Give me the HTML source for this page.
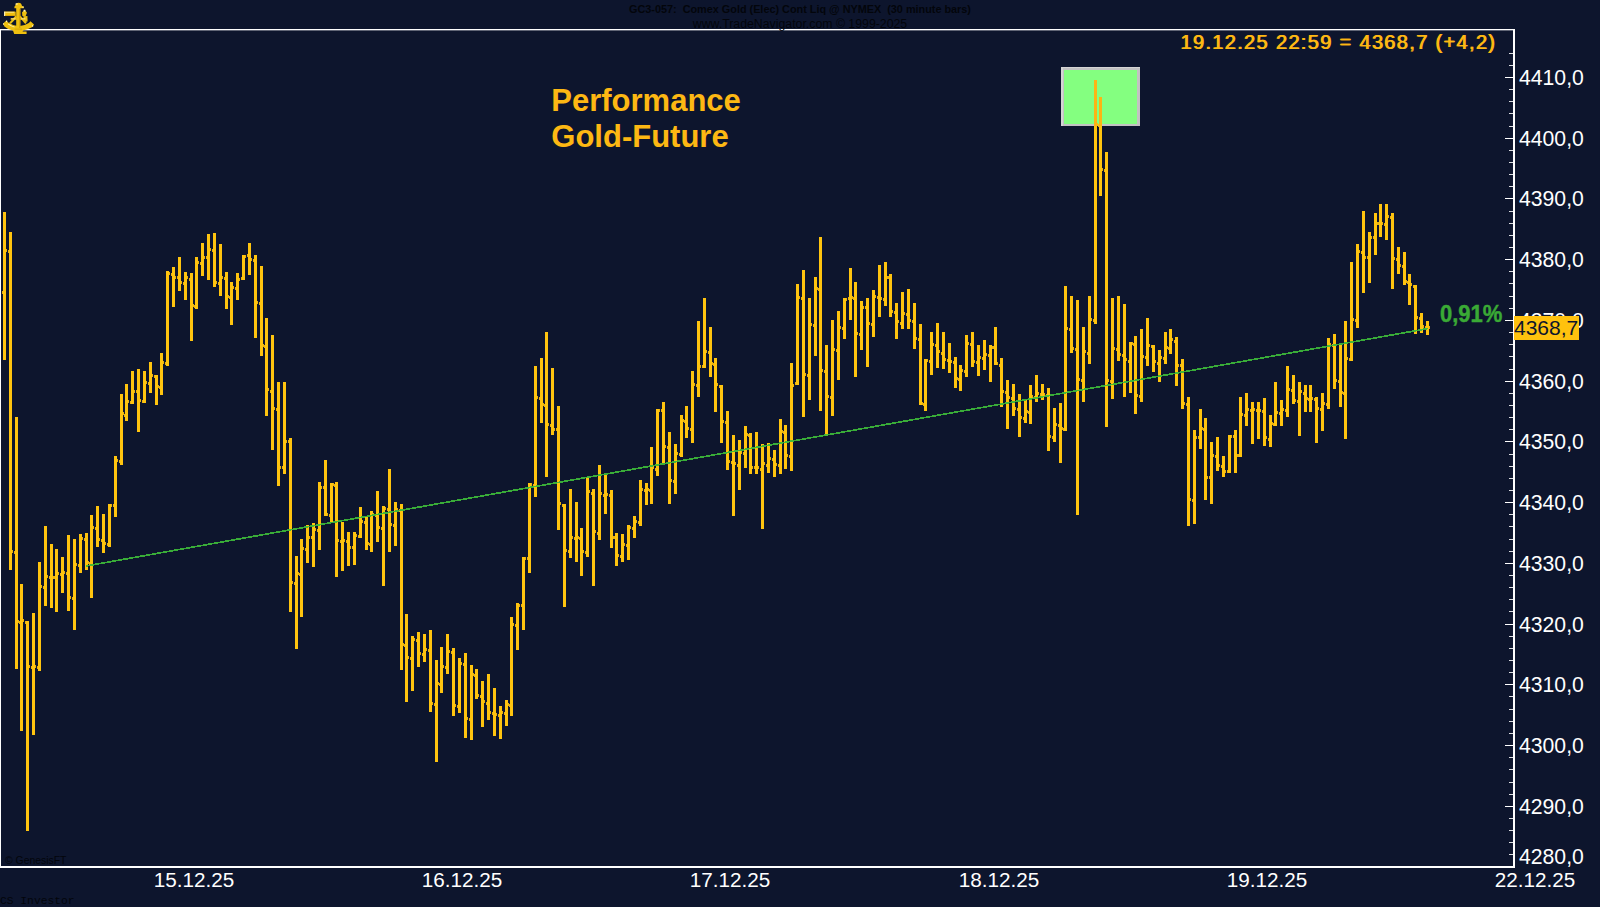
<!DOCTYPE html>
<html lang="de"><head><meta charset="utf-8"><title>Performance Gold-Future</title>
<style>
html,body{margin:0;padding:0;background:#0d152d;}
body{width:1600px;height:907px;position:relative;overflow:hidden;font-family:"Liberation Sans",Arial,sans-serif;}
#chart{position:absolute;left:0;top:0;width:1600px;height:907px;}
.t{position:absolute;white-space:nowrap;}
.yl{position:absolute;left:1519px;width:70px;height:24px;line-height:24px;font-size:21.2px;color:#fff;white-space:nowrap;}
.dl{position:absolute;top:868.3px;width:100px;height:24px;line-height:24px;font-size:20.7px;color:#fff;text-align:center;white-space:nowrap;}
#title{left:551.3px;top:82.8px;font-size:31px;line-height:35.7px;font-weight:bold;color:#fdb813;white-space:pre;}
#status{left:1180px;top:30px;font-size:20px;line-height:24px;font-weight:normal;color:#fdb813;text-shadow:1px 0 0 #fdb813;letter-spacing:1.335px;}
#pct{left:1440.2px;top:301px;font-size:23.4px;line-height:27px;transform:scaleX(0.94);transform-origin:0 0;-webkit-text-stroke:0.45px #3aaa35;font-weight:bold;color:#3aaa35;}
#price{left:1514px;top:316px;width:65px;height:24px;background:#ffc20e;color:#0d152d;font-size:21px;line-height:24px;}
#hdr1{left:0;width:1600px;text-align:center;top:2.7px;font-size:10.85px;line-height:13px;font-weight:bold;color:#03050b;white-space:pre;}
#hdr2{left:0;width:1600px;text-align:center;top:17px;font-size:12.3px;line-height:14px;color:#03050b;}
#gen{left:5px;top:855px;font-size:10.4px;line-height:12px;color:#03050b;}
#cs{left:0px;top:895px;font-size:11.3px;line-height:12px;color:#03050b;font-family:"Liberation Mono",monospace;}
</style></head><body>
<svg id="chart" width="1600" height="907" viewBox="0 0 1600 907" shape-rendering="crispEdges">
<g fill="#fff">
<rect x="0" y="29" width="1515" height="1"/><rect x="0" y="30" width="1515" height="1" fill-opacity="0.35"/>
<rect x="0" y="866" width="1515" height="2"/>
<rect x="1513" y="29" width="2" height="839"/>
<rect x="0" y="29" width="1" height="839"/>
<rect x="1509" y="53" width="4" height="1" fill-opacity="0.85"/><rect x="1509" y="65" width="4" height="1" fill-opacity="0.85"/><rect x="1505" y="77" width="8" height="1"/><rect x="1509" y="89" width="4" height="1" fill-opacity="0.85"/><rect x="1509" y="101" width="4" height="1" fill-opacity="0.85"/><rect x="1509" y="113" width="4" height="1" fill-opacity="0.85"/><rect x="1509" y="126" width="4" height="1" fill-opacity="0.85"/><rect x="1505" y="138" width="8" height="1"/><rect x="1509" y="150" width="4" height="1" fill-opacity="0.85"/><rect x="1509" y="162" width="4" height="1" fill-opacity="0.85"/><rect x="1509" y="174" width="4" height="1" fill-opacity="0.85"/><rect x="1509" y="186" width="4" height="1" fill-opacity="0.85"/><rect x="1505" y="198" width="8" height="1"/><rect x="1509" y="211" width="4" height="1" fill-opacity="0.85"/><rect x="1509" y="223" width="4" height="1" fill-opacity="0.85"/><rect x="1509" y="235" width="4" height="1" fill-opacity="0.85"/><rect x="1509" y="247" width="4" height="1" fill-opacity="0.85"/><rect x="1505" y="259" width="8" height="1"/><rect x="1509" y="271" width="4" height="1" fill-opacity="0.85"/><rect x="1509" y="283" width="4" height="1" fill-opacity="0.85"/><rect x="1509" y="296" width="4" height="1" fill-opacity="0.85"/><rect x="1509" y="308" width="4" height="1" fill-opacity="0.85"/><rect x="1505" y="320" width="8" height="1"/><rect x="1509" y="332" width="4" height="1" fill-opacity="0.85"/><rect x="1509" y="344" width="4" height="1" fill-opacity="0.85"/><rect x="1509" y="356" width="4" height="1" fill-opacity="0.85"/><rect x="1509" y="369" width="4" height="1" fill-opacity="0.85"/><rect x="1505" y="381" width="8" height="1"/><rect x="1509" y="393" width="4" height="1" fill-opacity="0.85"/><rect x="1509" y="405" width="4" height="1" fill-opacity="0.85"/><rect x="1509" y="417" width="4" height="1" fill-opacity="0.85"/><rect x="1509" y="429" width="4" height="1" fill-opacity="0.85"/><rect x="1505" y="441" width="8" height="1"/><rect x="1509" y="454" width="4" height="1" fill-opacity="0.85"/><rect x="1509" y="466" width="4" height="1" fill-opacity="0.85"/><rect x="1509" y="478" width="4" height="1" fill-opacity="0.85"/><rect x="1509" y="490" width="4" height="1" fill-opacity="0.85"/><rect x="1505" y="502" width="8" height="1"/><rect x="1509" y="514" width="4" height="1" fill-opacity="0.85"/><rect x="1509" y="526" width="4" height="1" fill-opacity="0.85"/><rect x="1509" y="539" width="4" height="1" fill-opacity="0.85"/><rect x="1509" y="551" width="4" height="1" fill-opacity="0.85"/><rect x="1505" y="563" width="8" height="1"/><rect x="1509" y="575" width="4" height="1" fill-opacity="0.85"/><rect x="1509" y="587" width="4" height="1" fill-opacity="0.85"/><rect x="1509" y="599" width="4" height="1" fill-opacity="0.85"/><rect x="1509" y="611" width="4" height="1" fill-opacity="0.85"/><rect x="1505" y="624" width="8" height="1"/><rect x="1509" y="636" width="4" height="1" fill-opacity="0.85"/><rect x="1509" y="648" width="4" height="1" fill-opacity="0.85"/><rect x="1509" y="660" width="4" height="1" fill-opacity="0.85"/><rect x="1509" y="672" width="4" height="1" fill-opacity="0.85"/><rect x="1505" y="684" width="8" height="1"/><rect x="1509" y="696" width="4" height="1" fill-opacity="0.85"/><rect x="1509" y="709" width="4" height="1" fill-opacity="0.85"/><rect x="1509" y="721" width="4" height="1" fill-opacity="0.85"/><rect x="1509" y="733" width="4" height="1" fill-opacity="0.85"/><rect x="1505" y="745" width="8" height="1"/><rect x="1509" y="757" width="4" height="1" fill-opacity="0.85"/><rect x="1509" y="769" width="4" height="1" fill-opacity="0.85"/><rect x="1509" y="782" width="4" height="1" fill-opacity="0.85"/><rect x="1509" y="794" width="4" height="1" fill-opacity="0.85"/><rect x="1505" y="806" width="8" height="1"/><rect x="1509" y="818" width="4" height="1" fill-opacity="0.85"/><rect x="1509" y="830" width="4" height="1" fill-opacity="0.85"/><rect x="1509" y="842" width="4" height="1" fill-opacity="0.85"/><rect x="1509" y="854" width="4" height="1" fill-opacity="0.85"/>
</g>
<rect x="1061" y="67" width="79" height="59" fill="#d4d4d4"/><rect x="1063" y="68" width="77" height="58" fill="#c2c2c2"/><rect x="1064" y="70" width="73" height="54" fill="#84ff80"/>
<g fill="#ffc40f"><rect x="3" y="212" width="3" height="148"/><rect x="9" y="232" width="3" height="338"/><rect x="15" y="417" width="3" height="252"/><rect x="20" y="584" width="3" height="147"/><rect x="26" y="621" width="3" height="210"/><rect x="32" y="613" width="3" height="122"/><rect x="38" y="562" width="3" height="109"/><rect x="44" y="526" width="3" height="80"/><rect x="50" y="544" width="3" height="64"/><rect x="55" y="549" width="3" height="63"/><rect x="61" y="557" width="3" height="36"/><rect x="67" y="535" width="3" height="76"/><rect x="73" y="539" width="3" height="91"/><rect x="79" y="534" width="3" height="39"/><rect x="85" y="533" width="3" height="37"/><rect x="90" y="515" width="3" height="83"/><rect x="96" y="506" width="3" height="41"/><rect x="102" y="514" width="3" height="39"/><rect x="108" y="504" width="3" height="43"/><rect x="114" y="456" width="3" height="61"/><rect x="120" y="394" width="3" height="71"/><rect x="125" y="384" width="3" height="37"/><rect x="131" y="371" width="3" height="33"/><rect x="137" y="369" width="3" height="63"/><rect x="143" y="371" width="3" height="32"/><rect x="149" y="362" width="3" height="31"/><rect x="155" y="375" width="3" height="30"/><rect x="160" y="353" width="3" height="42"/><rect x="166" y="271" width="3" height="95"/><rect x="172" y="267" width="3" height="40"/><rect x="178" y="257" width="3" height="34"/><rect x="184" y="272" width="3" height="28"/><rect x="190" y="273" width="3" height="68"/><rect x="195" y="257" width="3" height="52"/><rect x="201" y="243" width="3" height="33"/><rect x="207" y="234" width="3" height="46"/><rect x="213" y="233" width="3" height="54"/><rect x="219" y="244" width="3" height="52"/><rect x="225" y="272" width="3" height="37"/><rect x="230" y="282" width="3" height="43"/><rect x="236" y="273" width="3" height="27"/><rect x="242" y="255" width="3" height="25"/><rect x="248" y="243" width="3" height="32"/><rect x="254" y="255" width="3" height="83"/><rect x="260" y="266" width="3" height="90"/><rect x="265" y="318" width="3" height="98"/><rect x="271" y="335" width="3" height="115"/><rect x="277" y="382" width="3" height="104"/><rect x="283" y="382" width="3" height="92"/><rect x="289" y="438" width="3" height="174"/><rect x="295" y="556" width="3" height="93"/><rect x="300" y="539" width="3" height="78"/><rect x="306" y="525" width="3" height="38"/><rect x="312" y="523" width="3" height="44"/><rect x="318" y="482" width="3" height="68"/><rect x="324" y="460" width="3" height="56"/><rect x="330" y="483" width="3" height="39"/><rect x="335" y="482" width="3" height="95"/><rect x="341" y="522" width="3" height="49"/><rect x="347" y="532" width="3" height="34"/><rect x="353" y="532" width="3" height="33"/><rect x="359" y="507" width="3" height="31"/><rect x="365" y="517" width="3" height="33"/><rect x="370" y="511" width="3" height="41"/><rect x="376" y="491" width="3" height="51"/><rect x="382" y="506" width="3" height="80"/><rect x="388" y="469" width="3" height="83"/><rect x="394" y="502" width="3" height="44"/><rect x="400" y="504" width="3" height="166"/><rect x="405" y="614" width="3" height="88"/><rect x="411" y="636" width="3" height="55"/><rect x="417" y="632" width="3" height="35"/><rect x="423" y="634" width="3" height="28"/><rect x="429" y="630" width="3" height="82"/><rect x="435" y="660" width="3" height="102"/><rect x="440" y="647" width="3" height="46"/><rect x="446" y="634" width="3" height="40"/><rect x="452" y="648" width="3" height="68"/><rect x="458" y="658" width="3" height="55"/><rect x="464" y="653" width="3" height="85"/><rect x="470" y="665" width="3" height="75"/><rect x="475" y="669" width="3" height="30"/><rect x="481" y="681" width="3" height="46"/><rect x="487" y="674" width="3" height="46"/><rect x="493" y="688" width="3" height="48"/><rect x="499" y="706" width="3" height="33"/><rect x="505" y="700" width="3" height="26"/><rect x="510" y="617" width="3" height="99"/><rect x="516" y="603" width="3" height="47"/><rect x="522" y="557" width="3" height="73"/><rect x="528" y="483" width="3" height="90"/><rect x="534" y="366" width="3" height="131"/><rect x="540" y="358" width="3" height="65"/><rect x="545" y="332" width="3" height="145"/><rect x="551" y="368" width="3" height="67"/><rect x="557" y="406" width="3" height="124"/><rect x="563" y="504" width="3" height="103"/><rect x="569" y="489" width="3" height="69"/><rect x="575" y="502" width="3" height="60"/><rect x="580" y="528" width="3" height="48"/><rect x="586" y="477" width="3" height="80"/><rect x="592" y="489" width="3" height="97"/><rect x="598" y="465" width="3" height="75"/><rect x="604" y="475" width="3" height="39"/><rect x="610" y="490" width="3" height="58"/><rect x="615" y="533" width="3" height="33"/><rect x="621" y="534" width="3" height="28"/><rect x="627" y="525" width="3" height="35"/><rect x="633" y="516" width="3" height="22"/><rect x="639" y="480" width="3" height="46"/><rect x="645" y="483" width="3" height="22"/><rect x="650" y="447" width="3" height="57"/><rect x="656" y="409" width="3" height="67"/><rect x="662" y="402" width="3" height="61"/><rect x="668" y="432" width="3" height="72"/><rect x="674" y="444" width="3" height="50"/><rect x="680" y="415" width="3" height="42"/><rect x="685" y="406" width="3" height="32"/><rect x="691" y="371" width="3" height="72"/><rect x="697" y="321" width="3" height="76"/><rect x="703" y="298" width="3" height="70"/><rect x="709" y="327" width="3" height="50"/><rect x="714" y="358" width="3" height="54"/><rect x="720" y="385" width="3" height="58"/><rect x="726" y="411" width="3" height="59"/><rect x="732" y="435" width="3" height="81"/><rect x="738" y="440" width="3" height="50"/><rect x="744" y="426" width="3" height="42"/><rect x="749" y="433" width="3" height="41"/><rect x="755" y="432" width="3" height="42"/><rect x="761" y="444" width="3" height="85"/><rect x="767" y="443" width="3" height="30"/><rect x="773" y="450" width="3" height="27"/><rect x="779" y="419" width="3" height="55"/><rect x="784" y="425" width="3" height="44"/><rect x="790" y="363" width="3" height="108"/><rect x="796" y="284" width="3" height="101"/><rect x="802" y="270" width="3" height="147"/><rect x="808" y="298" width="3" height="102"/><rect x="814" y="277" width="3" height="79"/><rect x="819" y="237" width="3" height="174"/><rect x="825" y="345" width="3" height="91"/><rect x="831" y="320" width="3" height="96"/><rect x="837" y="311" width="3" height="69"/><rect x="843" y="298" width="3" height="41"/><rect x="849" y="268" width="3" height="52"/><rect x="854" y="282" width="3" height="95"/><rect x="860" y="301" width="3" height="49"/><rect x="866" y="298" width="3" height="69"/><rect x="872" y="290" width="3" height="47"/><rect x="878" y="265" width="3" height="52"/><rect x="884" y="262" width="3" height="44"/><rect x="889" y="274" width="3" height="43"/><rect x="895" y="303" width="3" height="36"/><rect x="901" y="292" width="3" height="37"/><rect x="907" y="289" width="3" height="40"/><rect x="913" y="303" width="3" height="46"/><rect x="919" y="324" width="3" height="81"/><rect x="924" y="359" width="3" height="52"/><rect x="930" y="332" width="3" height="43"/><rect x="936" y="323" width="3" height="45"/><rect x="942" y="332" width="3" height="37"/><rect x="948" y="343" width="3" height="30"/><rect x="954" y="357" width="3" height="31"/><rect x="959" y="365" width="3" height="26"/><rect x="965" y="335" width="3" height="42"/><rect x="971" y="332" width="3" height="35"/><rect x="977" y="345" width="3" height="31"/><rect x="983" y="340" width="3" height="30"/><rect x="989" y="345" width="3" height="37"/><rect x="994" y="327" width="3" height="38"/><rect x="1000" y="358" width="3" height="49"/><rect x="1006" y="380" width="3" height="49"/><rect x="1012" y="384" width="3" height="32"/><rect x="1018" y="394" width="3" height="43"/><rect x="1024" y="400" width="3" height="23"/><rect x="1029" y="385" width="3" height="39"/><rect x="1035" y="375" width="3" height="27"/><rect x="1041" y="384" width="3" height="16"/><rect x="1047" y="388" width="3" height="63"/><rect x="1053" y="408" width="3" height="34"/><rect x="1059" y="403" width="3" height="60"/><rect x="1064" y="286" width="3" height="145"/><rect x="1070" y="296" width="3" height="57"/><rect x="1076" y="300" width="3" height="215"/><rect x="1082" y="327" width="3" height="75"/><rect x="1088" y="296" width="3" height="68"/><rect x="1094" y="80" width="3" height="244"/><rect x="1099" y="97" width="3" height="99"/><rect x="1105" y="152" width="3" height="275"/><rect x="1111" y="298" width="3" height="101"/><rect x="1117" y="296" width="3" height="65"/><rect x="1123" y="304" width="3" height="93"/><rect x="1129" y="342" width="3" height="51"/><rect x="1134" y="336" width="3" height="78"/><rect x="1140" y="329" width="3" height="73"/><rect x="1146" y="318" width="3" height="48"/><rect x="1152" y="345" width="3" height="27"/><rect x="1158" y="350" width="3" height="32"/><rect x="1164" y="332" width="3" height="32"/><rect x="1169" y="329" width="3" height="25"/><rect x="1175" y="337" width="3" height="49"/><rect x="1181" y="359" width="3" height="50"/><rect x="1187" y="397" width="3" height="129"/><rect x="1193" y="430" width="3" height="94"/><rect x="1199" y="409" width="3" height="40"/><rect x="1204" y="418" width="3" height="82"/><rect x="1210" y="442" width="3" height="62"/><rect x="1216" y="437" width="3" height="34"/><rect x="1222" y="456" width="3" height="21"/><rect x="1228" y="435" width="3" height="38"/><rect x="1234" y="430" width="3" height="43"/><rect x="1239" y="397" width="3" height="60"/><rect x="1245" y="393" width="3" height="33"/><rect x="1251" y="402" width="3" height="42"/><rect x="1257" y="402" width="3" height="37"/><rect x="1263" y="398" width="3" height="48"/><rect x="1269" y="415" width="3" height="32"/><rect x="1274" y="382" width="3" height="44"/><rect x="1280" y="400" width="3" height="26"/><rect x="1286" y="366" width="3" height="51"/><rect x="1292" y="375" width="3" height="29"/><rect x="1298" y="382" width="3" height="54"/><rect x="1304" y="385" width="3" height="27"/><rect x="1309" y="385" width="3" height="27"/><rect x="1315" y="397" width="3" height="46"/><rect x="1321" y="393" width="3" height="38"/><rect x="1327" y="338" width="3" height="71"/><rect x="1333" y="334" width="3" height="55"/><rect x="1339" y="345" width="3" height="62"/><rect x="1344" y="321" width="3" height="118"/><rect x="1350" y="262" width="3" height="99"/><rect x="1356" y="244" width="3" height="84"/><rect x="1362" y="211" width="3" height="82"/><rect x="1368" y="232" width="3" height="51"/><rect x="1374" y="213" width="3" height="42"/><rect x="1379" y="204" width="3" height="33"/><rect x="1385" y="204" width="3" height="36"/><rect x="1391" y="213" width="3" height="76"/><rect x="1397" y="247" width="3" height="27"/><rect x="1403" y="252" width="3" height="33"/><rect x="1408" y="274" width="3" height="31"/><rect x="1414" y="285" width="3" height="49"/><rect x="1420" y="313" width="3" height="20"/><rect x="1426" y="321" width="3" height="14"/></g><g fill="#fbc010" fill-opacity="0.92"><rect x="6" y="249" width="1" height="3"/><rect x="2" y="291" width="1" height="3"/><rect x="12" y="550" width="1" height="3"/><rect x="8" y="250" width="1" height="3"/><rect x="18" y="620" width="1" height="3"/><rect x="14" y="551" width="1" height="3"/><rect x="23" y="619" width="1" height="3"/><rect x="19" y="621" width="1" height="3"/><rect x="29" y="665" width="1" height="3"/><rect x="25" y="621" width="1" height="3"/><rect x="35" y="665" width="1" height="3"/><rect x="31" y="666" width="1" height="3"/><rect x="41" y="585" width="1" height="3"/><rect x="37" y="666" width="1" height="3"/><rect x="47" y="575" width="1" height="3"/><rect x="43" y="586" width="1" height="3"/><rect x="53" y="576" width="1" height="3"/><rect x="49" y="576" width="1" height="3"/><rect x="58" y="572" width="1" height="3"/><rect x="54" y="576" width="1" height="3"/><rect x="64" y="571" width="1" height="3"/><rect x="60" y="573" width="1" height="3"/><rect x="70" y="596" width="1" height="3"/><rect x="66" y="572" width="1" height="3"/><rect x="76" y="563" width="1" height="3"/><rect x="72" y="597" width="1" height="3"/><rect x="82" y="537" width="1" height="3"/><rect x="78" y="564" width="1" height="3"/><rect x="88" y="561" width="1" height="3"/><rect x="84" y="538" width="1" height="3"/><rect x="93" y="526" width="1" height="3"/><rect x="89" y="562" width="1" height="3"/><rect x="99" y="538" width="1" height="3"/><rect x="95" y="527" width="1" height="3"/><rect x="105" y="542" width="1" height="3"/><rect x="101" y="539" width="1" height="3"/><rect x="111" y="504" width="1" height="3"/><rect x="107" y="543" width="1" height="3"/><rect x="117" y="459" width="1" height="3"/><rect x="113" y="504" width="1" height="3"/><rect x="123" y="412" width="1" height="3"/><rect x="119" y="460" width="1" height="3"/><rect x="128" y="400" width="1" height="3"/><rect x="124" y="414" width="1" height="3"/><rect x="134" y="390" width="1" height="3"/><rect x="130" y="401" width="1" height="3"/><rect x="140" y="399" width="1" height="3"/><rect x="136" y="390" width="1" height="3"/><rect x="146" y="381" width="1" height="3"/><rect x="142" y="400" width="1" height="3"/><rect x="152" y="374" width="1" height="3"/><rect x="148" y="382" width="1" height="3"/><rect x="158" y="385" width="1" height="3"/><rect x="154" y="375" width="1" height="3"/><rect x="163" y="361" width="1" height="3"/><rect x="159" y="386" width="1" height="3"/><rect x="169" y="272" width="1" height="3"/><rect x="165" y="362" width="1" height="3"/><rect x="175" y="276" width="1" height="3"/><rect x="171" y="273" width="1" height="3"/><rect x="181" y="281" width="1" height="3"/><rect x="177" y="276" width="1" height="3"/><rect x="187" y="276" width="1" height="3"/><rect x="183" y="282" width="1" height="3"/><rect x="193" y="304" width="1" height="3"/><rect x="189" y="278" width="1" height="3"/><rect x="198" y="261" width="1" height="3"/><rect x="194" y="305" width="1" height="3"/><rect x="204" y="256" width="1" height="3"/><rect x="200" y="262" width="1" height="3"/><rect x="210" y="248" width="1" height="3"/><rect x="206" y="256" width="1" height="3"/><rect x="216" y="281" width="1" height="3"/><rect x="212" y="249" width="1" height="3"/><rect x="222" y="276" width="1" height="3"/><rect x="218" y="282" width="1" height="3"/><rect x="228" y="295" width="1" height="3"/><rect x="224" y="277" width="1" height="3"/><rect x="233" y="286" width="1" height="3"/><rect x="229" y="296" width="1" height="3"/><rect x="239" y="278" width="1" height="3"/><rect x="235" y="287" width="1" height="3"/><rect x="245" y="255" width="1" height="3"/><rect x="241" y="277" width="1" height="3"/><rect x="251" y="258" width="1" height="3"/><rect x="247" y="254" width="1" height="3"/><rect x="257" y="301" width="1" height="3"/><rect x="253" y="259" width="1" height="3"/><rect x="263" y="344" width="1" height="3"/><rect x="259" y="302" width="1" height="3"/><rect x="268" y="388" width="1" height="3"/><rect x="264" y="345" width="1" height="3"/><rect x="274" y="407" width="1" height="3"/><rect x="270" y="390" width="1" height="3"/><rect x="280" y="466" width="1" height="3"/><rect x="276" y="408" width="1" height="3"/><rect x="286" y="440" width="1" height="3"/><rect x="282" y="466" width="1" height="3"/><rect x="292" y="581" width="1" height="3"/><rect x="288" y="440" width="1" height="3"/><rect x="298" y="572" width="1" height="3"/><rect x="294" y="582" width="1" height="3"/><rect x="303" y="547" width="1" height="3"/><rect x="299" y="573" width="1" height="3"/><rect x="309" y="536" width="1" height="3"/><rect x="305" y="548" width="1" height="3"/><rect x="315" y="528" width="1" height="3"/><rect x="311" y="536" width="1" height="3"/><rect x="321" y="486" width="1" height="3"/><rect x="317" y="529" width="1" height="3"/><rect x="327" y="513" width="1" height="3"/><rect x="323" y="486" width="1" height="3"/><rect x="333" y="483" width="1" height="3"/><rect x="329" y="514" width="1" height="3"/><rect x="338" y="539" width="1" height="3"/><rect x="334" y="484" width="1" height="3"/><rect x="344" y="539" width="1" height="3"/><rect x="340" y="540" width="1" height="3"/><rect x="350" y="546" width="1" height="3"/><rect x="346" y="540" width="1" height="3"/><rect x="356" y="534" width="1" height="3"/><rect x="352" y="546" width="1" height="3"/><rect x="362" y="520" width="1" height="3"/><rect x="358" y="535" width="1" height="3"/><rect x="368" y="542" width="1" height="3"/><rect x="364" y="521" width="1" height="3"/><rect x="373" y="513" width="1" height="3"/><rect x="369" y="543" width="1" height="3"/><rect x="379" y="526" width="1" height="3"/><rect x="375" y="514" width="1" height="3"/><rect x="385" y="507" width="1" height="3"/><rect x="381" y="527" width="1" height="3"/><rect x="391" y="523" width="1" height="3"/><rect x="387" y="508" width="1" height="3"/><rect x="397" y="508" width="1" height="3"/><rect x="393" y="524" width="1" height="3"/><rect x="403" y="643" width="1" height="3"/><rect x="399" y="509" width="1" height="3"/><rect x="408" y="656" width="1" height="3"/><rect x="404" y="644" width="1" height="3"/><rect x="414" y="638" width="1" height="3"/><rect x="410" y="657" width="1" height="3"/><rect x="420" y="652" width="1" height="3"/><rect x="416" y="639" width="1" height="3"/><rect x="426" y="648" width="1" height="3"/><rect x="422" y="653" width="1" height="3"/><rect x="432" y="702" width="1" height="3"/><rect x="428" y="649" width="1" height="3"/><rect x="438" y="682" width="1" height="3"/><rect x="434" y="703" width="1" height="3"/><rect x="443" y="665" width="1" height="3"/><rect x="439" y="683" width="1" height="3"/><rect x="449" y="650" width="1" height="3"/><rect x="445" y="666" width="1" height="3"/><rect x="455" y="704" width="1" height="3"/><rect x="451" y="651" width="1" height="3"/><rect x="461" y="662" width="1" height="3"/><rect x="457" y="705" width="1" height="3"/><rect x="467" y="717" width="1" height="3"/><rect x="463" y="663" width="1" height="3"/><rect x="473" y="673" width="1" height="3"/><rect x="469" y="718" width="1" height="3"/><rect x="478" y="694" width="1" height="3"/><rect x="474" y="674" width="1" height="3"/><rect x="484" y="700" width="1" height="3"/><rect x="480" y="695" width="1" height="3"/><rect x="490" y="711" width="1" height="3"/><rect x="486" y="702" width="1" height="3"/><rect x="496" y="713" width="1" height="3"/><rect x="492" y="712" width="1" height="3"/><rect x="502" y="711" width="1" height="3"/><rect x="498" y="714" width="1" height="3"/><rect x="508" y="703" width="1" height="3"/><rect x="504" y="712" width="1" height="3"/><rect x="513" y="623" width="1" height="3"/><rect x="509" y="704" width="1" height="3"/><rect x="519" y="604" width="1" height="3"/><rect x="515" y="624" width="1" height="3"/><rect x="525" y="557" width="1" height="3"/><rect x="521" y="604" width="1" height="3"/><rect x="531" y="483" width="1" height="3"/><rect x="527" y="557" width="1" height="3"/><rect x="537" y="396" width="1" height="3"/><rect x="533" y="484" width="1" height="3"/><rect x="543" y="403" width="1" height="3"/><rect x="539" y="397" width="1" height="3"/><rect x="548" y="423" width="1" height="3"/><rect x="544" y="404" width="1" height="3"/><rect x="554" y="428" width="1" height="3"/><rect x="550" y="424" width="1" height="3"/><rect x="560" y="502" width="1" height="3"/><rect x="556" y="428" width="1" height="3"/><rect x="566" y="549" width="1" height="3"/><rect x="562" y="504" width="1" height="3"/><rect x="572" y="536" width="1" height="3"/><rect x="568" y="550" width="1" height="3"/><rect x="578" y="536" width="1" height="3"/><rect x="574" y="537" width="1" height="3"/><rect x="583" y="550" width="1" height="3"/><rect x="579" y="537" width="1" height="3"/><rect x="589" y="490" width="1" height="3"/><rect x="585" y="551" width="1" height="3"/><rect x="595" y="530" width="1" height="3"/><rect x="591" y="492" width="1" height="3"/><rect x="601" y="492" width="1" height="3"/><rect x="597" y="532" width="1" height="3"/><rect x="607" y="493" width="1" height="3"/><rect x="603" y="494" width="1" height="3"/><rect x="613" y="536" width="1" height="3"/><rect x="609" y="494" width="1" height="3"/><rect x="618" y="554" width="1" height="3"/><rect x="614" y="536" width="1" height="3"/><rect x="624" y="543" width="1" height="3"/><rect x="620" y="555" width="1" height="3"/><rect x="630" y="526" width="1" height="3"/><rect x="626" y="544" width="1" height="3"/><rect x="636" y="520" width="1" height="3"/><rect x="632" y="527" width="1" height="3"/><rect x="642" y="488" width="1" height="3"/><rect x="638" y="521" width="1" height="3"/><rect x="648" y="488" width="1" height="3"/><rect x="644" y="489" width="1" height="3"/><rect x="653" y="466" width="1" height="3"/><rect x="649" y="489" width="1" height="3"/><rect x="659" y="409" width="1" height="3"/><rect x="655" y="468" width="1" height="3"/><rect x="665" y="445" width="1" height="3"/><rect x="661" y="409" width="1" height="3"/><rect x="671" y="479" width="1" height="3"/><rect x="667" y="446" width="1" height="3"/><rect x="677" y="452" width="1" height="3"/><rect x="673" y="480" width="1" height="3"/><rect x="683" y="419" width="1" height="3"/><rect x="679" y="453" width="1" height="3"/><rect x="688" y="427" width="1" height="3"/><rect x="684" y="420" width="1" height="3"/><rect x="694" y="383" width="1" height="3"/><rect x="690" y="428" width="1" height="3"/><rect x="700" y="365" width="1" height="3"/><rect x="696" y="384" width="1" height="3"/><rect x="706" y="350" width="1" height="3"/><rect x="702" y="365" width="1" height="3"/><rect x="712" y="362" width="1" height="3"/><rect x="708" y="351" width="1" height="3"/><rect x="717" y="383" width="1" height="3"/><rect x="713" y="363" width="1" height="3"/><rect x="723" y="420" width="1" height="3"/><rect x="719" y="385" width="1" height="3"/><rect x="729" y="460" width="1" height="3"/><rect x="725" y="421" width="1" height="3"/><rect x="735" y="462" width="1" height="3"/><rect x="731" y="461" width="1" height="3"/><rect x="741" y="451" width="1" height="3"/><rect x="737" y="464" width="1" height="3"/><rect x="747" y="433" width="1" height="3"/><rect x="743" y="452" width="1" height="3"/><rect x="752" y="466" width="1" height="3"/><rect x="748" y="434" width="1" height="3"/><rect x="758" y="466" width="1" height="3"/><rect x="754" y="466" width="1" height="3"/><rect x="764" y="462" width="1" height="3"/><rect x="760" y="468" width="1" height="3"/><rect x="770" y="457" width="1" height="3"/><rect x="766" y="464" width="1" height="3"/><rect x="776" y="463" width="1" height="3"/><rect x="772" y="458" width="1" height="3"/><rect x="782" y="430" width="1" height="3"/><rect x="778" y="464" width="1" height="3"/><rect x="787" y="454" width="1" height="3"/><rect x="783" y="431" width="1" height="3"/><rect x="793" y="384" width="1" height="3"/><rect x="789" y="455" width="1" height="3"/><rect x="799" y="296" width="1" height="3"/><rect x="795" y="382" width="1" height="3"/><rect x="805" y="373" width="1" height="3"/><rect x="801" y="297" width="1" height="3"/><rect x="811" y="323" width="1" height="3"/><rect x="807" y="374" width="1" height="3"/><rect x="817" y="287" width="1" height="3"/><rect x="813" y="324" width="1" height="3"/><rect x="822" y="369" width="1" height="3"/><rect x="818" y="288" width="1" height="3"/><rect x="828" y="395" width="1" height="3"/><rect x="824" y="370" width="1" height="3"/><rect x="834" y="348" width="1" height="3"/><rect x="830" y="396" width="1" height="3"/><rect x="840" y="326" width="1" height="3"/><rect x="836" y="349" width="1" height="3"/><rect x="846" y="298" width="1" height="3"/><rect x="842" y="327" width="1" height="3"/><rect x="852" y="296" width="1" height="3"/><rect x="848" y="297" width="1" height="3"/><rect x="857" y="332" width="1" height="3"/><rect x="853" y="297" width="1" height="3"/><rect x="863" y="306" width="1" height="3"/><rect x="859" y="333" width="1" height="3"/><rect x="869" y="322" width="1" height="3"/><rect x="865" y="306" width="1" height="3"/><rect x="875" y="295" width="1" height="3"/><rect x="871" y="323" width="1" height="3"/><rect x="881" y="297" width="1" height="3"/><rect x="877" y="296" width="1" height="3"/><rect x="887" y="276" width="1" height="3"/><rect x="883" y="298" width="1" height="3"/><rect x="892" y="310" width="1" height="3"/><rect x="888" y="276" width="1" height="3"/><rect x="898" y="320" width="1" height="3"/><rect x="894" y="311" width="1" height="3"/><rect x="904" y="312" width="1" height="3"/><rect x="900" y="322" width="1" height="3"/><rect x="910" y="319" width="1" height="3"/><rect x="906" y="313" width="1" height="3"/><rect x="916" y="337" width="1" height="3"/><rect x="912" y="320" width="1" height="3"/><rect x="922" y="402" width="1" height="3"/><rect x="918" y="338" width="1" height="3"/><rect x="927" y="359" width="1" height="3"/><rect x="923" y="403" width="1" height="3"/><rect x="933" y="343" width="1" height="3"/><rect x="929" y="360" width="1" height="3"/><rect x="939" y="350" width="1" height="3"/><rect x="935" y="344" width="1" height="3"/><rect x="945" y="358" width="1" height="3"/><rect x="941" y="352" width="1" height="3"/><rect x="951" y="360" width="1" height="3"/><rect x="947" y="359" width="1" height="3"/><rect x="957" y="377" width="1" height="3"/><rect x="953" y="361" width="1" height="3"/><rect x="962" y="369" width="1" height="3"/><rect x="958" y="378" width="1" height="3"/><rect x="968" y="342" width="1" height="3"/><rect x="964" y="370" width="1" height="3"/><rect x="974" y="360" width="1" height="3"/><rect x="970" y="343" width="1" height="3"/><rect x="980" y="356" width="1" height="3"/><rect x="976" y="361" width="1" height="3"/><rect x="986" y="353" width="1" height="3"/><rect x="982" y="357" width="1" height="3"/><rect x="992" y="346" width="1" height="3"/><rect x="988" y="354" width="1" height="3"/><rect x="997" y="362" width="1" height="3"/><rect x="993" y="346" width="1" height="3"/><rect x="1003" y="390" width="1" height="3"/><rect x="999" y="364" width="1" height="3"/><rect x="1009" y="396" width="1" height="3"/><rect x="1005" y="391" width="1" height="3"/><rect x="1015" y="407" width="1" height="3"/><rect x="1011" y="397" width="1" height="3"/><rect x="1021" y="416" width="1" height="3"/><rect x="1017" y="408" width="1" height="3"/><rect x="1027" y="410" width="1" height="3"/><rect x="1023" y="417" width="1" height="3"/><rect x="1032" y="395" width="1" height="3"/><rect x="1028" y="411" width="1" height="3"/><rect x="1038" y="392" width="1" height="3"/><rect x="1034" y="396" width="1" height="3"/><rect x="1044" y="393" width="1" height="3"/><rect x="1040" y="393" width="1" height="3"/><rect x="1050" y="435" width="1" height="3"/><rect x="1046" y="394" width="1" height="3"/><rect x="1056" y="423" width="1" height="3"/><rect x="1052" y="436" width="1" height="3"/><rect x="1062" y="427" width="1" height="3"/><rect x="1058" y="424" width="1" height="3"/><rect x="1067" y="327" width="1" height="3"/><rect x="1063" y="428" width="1" height="3"/><rect x="1073" y="347" width="1" height="3"/><rect x="1069" y="328" width="1" height="3"/><rect x="1079" y="378" width="1" height="3"/><rect x="1075" y="348" width="1" height="3"/><rect x="1085" y="350" width="1" height="3"/><rect x="1081" y="379" width="1" height="3"/><rect x="1091" y="318" width="1" height="3"/><rect x="1087" y="352" width="1" height="3"/><rect x="1097" y="123" width="1" height="3"/><rect x="1093" y="319" width="1" height="3"/><rect x="1102" y="168" width="1" height="3"/><rect x="1098" y="124" width="1" height="3"/><rect x="1108" y="379" width="1" height="3"/><rect x="1104" y="169" width="1" height="3"/><rect x="1114" y="347" width="1" height="3"/><rect x="1110" y="380" width="1" height="3"/><rect x="1120" y="353" width="1" height="3"/><rect x="1116" y="348" width="1" height="3"/><rect x="1126" y="358" width="1" height="3"/><rect x="1122" y="354" width="1" height="3"/><rect x="1132" y="342" width="1" height="3"/><rect x="1128" y="360" width="1" height="3"/><rect x="1137" y="394" width="1" height="3"/><rect x="1133" y="343" width="1" height="3"/><rect x="1143" y="355" width="1" height="3"/><rect x="1139" y="395" width="1" height="3"/><rect x="1149" y="344" width="1" height="3"/><rect x="1145" y="356" width="1" height="3"/><rect x="1155" y="360" width="1" height="3"/><rect x="1151" y="345" width="1" height="3"/><rect x="1161" y="356" width="1" height="3"/><rect x="1157" y="362" width="1" height="3"/><rect x="1167" y="346" width="1" height="3"/><rect x="1163" y="357" width="1" height="3"/><rect x="1172" y="338" width="1" height="3"/><rect x="1168" y="347" width="1" height="3"/><rect x="1178" y="364" width="1" height="3"/><rect x="1174" y="340" width="1" height="3"/><rect x="1184" y="402" width="1" height="3"/><rect x="1180" y="364" width="1" height="3"/><rect x="1190" y="498" width="1" height="3"/><rect x="1186" y="403" width="1" height="3"/><rect x="1196" y="436" width="1" height="3"/><rect x="1192" y="499" width="1" height="3"/><rect x="1202" y="427" width="1" height="3"/><rect x="1198" y="436" width="1" height="3"/><rect x="1207" y="476" width="1" height="3"/><rect x="1203" y="428" width="1" height="3"/><rect x="1213" y="454" width="1" height="3"/><rect x="1209" y="476" width="1" height="3"/><rect x="1219" y="464" width="1" height="3"/><rect x="1215" y="455" width="1" height="3"/><rect x="1225" y="470" width="1" height="3"/><rect x="1221" y="465" width="1" height="3"/><rect x="1231" y="435" width="1" height="3"/><rect x="1227" y="470" width="1" height="3"/><rect x="1237" y="454" width="1" height="3"/><rect x="1233" y="435" width="1" height="3"/><rect x="1242" y="413" width="1" height="3"/><rect x="1238" y="454" width="1" height="3"/><rect x="1248" y="408" width="1" height="3"/><rect x="1244" y="414" width="1" height="3"/><rect x="1254" y="408" width="1" height="3"/><rect x="1250" y="409" width="1" height="3"/><rect x="1260" y="409" width="1" height="3"/><rect x="1256" y="409" width="1" height="3"/><rect x="1266" y="436" width="1" height="3"/><rect x="1262" y="410" width="1" height="3"/><rect x="1272" y="422" width="1" height="3"/><rect x="1268" y="438" width="1" height="3"/><rect x="1277" y="411" width="1" height="3"/><rect x="1273" y="423" width="1" height="3"/><rect x="1283" y="408" width="1" height="3"/><rect x="1279" y="412" width="1" height="3"/><rect x="1289" y="388" width="1" height="3"/><rect x="1285" y="409" width="1" height="3"/><rect x="1295" y="399" width="1" height="3"/><rect x="1291" y="389" width="1" height="3"/><rect x="1301" y="390" width="1" height="3"/><rect x="1297" y="400" width="1" height="3"/><rect x="1307" y="397" width="1" height="3"/><rect x="1303" y="392" width="1" height="3"/><rect x="1312" y="397" width="1" height="3"/><rect x="1308" y="398" width="1" height="3"/><rect x="1318" y="407" width="1" height="3"/><rect x="1314" y="398" width="1" height="3"/><rect x="1324" y="402" width="1" height="3"/><rect x="1320" y="408" width="1" height="3"/><rect x="1330" y="343" width="1" height="3"/><rect x="1326" y="403" width="1" height="3"/><rect x="1336" y="379" width="1" height="3"/><rect x="1332" y="344" width="1" height="3"/><rect x="1342" y="391" width="1" height="3"/><rect x="1338" y="380" width="1" height="3"/><rect x="1347" y="357" width="1" height="3"/><rect x="1343" y="392" width="1" height="3"/><rect x="1353" y="318" width="1" height="3"/><rect x="1349" y="358" width="1" height="3"/><rect x="1359" y="250" width="1" height="3"/><rect x="1355" y="319" width="1" height="3"/><rect x="1365" y="256" width="1" height="3"/><rect x="1361" y="251" width="1" height="3"/><rect x="1371" y="236" width="1" height="3"/><rect x="1367" y="256" width="1" height="3"/><rect x="1377" y="222" width="1" height="3"/><rect x="1373" y="236" width="1" height="3"/><rect x="1382" y="222" width="1" height="3"/><rect x="1378" y="222" width="1" height="3"/><rect x="1388" y="215" width="1" height="3"/><rect x="1384" y="223" width="1" height="3"/><rect x="1394" y="257" width="1" height="3"/><rect x="1390" y="216" width="1" height="3"/><rect x="1400" y="264" width="1" height="3"/><rect x="1396" y="258" width="1" height="3"/><rect x="1406" y="280" width="1" height="3"/><rect x="1402" y="265" width="1" height="3"/><rect x="1411" y="283" width="1" height="3"/><rect x="1407" y="281" width="1" height="3"/><rect x="1417" y="316" width="1" height="3"/><rect x="1413" y="285" width="1" height="3"/><rect x="1423" y="325" width="1" height="3"/><rect x="1419" y="317" width="1" height="3"/><rect x="1429" y="326" width="1" height="3"/><rect x="1425" y="326" width="1" height="3"/></g>
<g fill="#fdb414"><rect x="1094" y="80" width="3" height="46"/><rect x="1099" y="97" width="3" height="29"/></g>
<line x1="86" y1="566.0" x2="1427.8" y2="328.6" stroke="#3dba39" stroke-width="1.7" stroke-opacity="0.92" shape-rendering="crispEdges"/>
</svg>
<svg id="logo" width="36" height="36" viewBox="0 0 36 36" style="position:absolute;left:0;top:0">
<g fill="#efc00f">
<path d="M3 23.8 L6.3 20.4 L8.2 22.6 Q18.4 29.6 28.8 22.9 L30.5 21.3 L34 24.6 L32.4 27.1 Q28 29.6 23 30.6 L22.6 31.4 L26.6 31.4 L26.6 33.9 L14.2 33.9 L13 30.6 Q7.5 29.6 4.4 26.6 Z"/>
<rect x="16.2" y="7" width="4.2" height="22"/>
<path d="M15.2 6 Q15.4 2.8 18.6 2.7 Q21.6 2.8 22 6 L23.7 6.4 L23.7 8.3 L14.4 8.3 L14.4 6.4 Z"/>
<rect x="4.1" y="11.4" width="11.6" height="4.7" rx="0.7"/>
<path d="M15.6 15.6 L9.2 22.8 L10.8 23.9 L17 17.4 Z"/>
<path d="M20.4 15.6 L26.8 22.6 L25.2 23.9 L19.6 17.4 Z"/>
<path d="M24.6 9.6 L27 12.8 L25.4 16.6 L22.4 16 L22 12.4 Z"/>
<path d="M23.2 16.2 L27.4 16 L27.6 21.6 L24.6 22 Z"/>
<rect x="10.6" y="18.3" width="15.6" height="1.4"/>
</g>
<g fill="#fff6c4">
<rect x="4.1" y="11.6" width="1.1" height="4.4"/>
<rect x="5.2" y="11.8" width="9" height="0.9" fill-opacity="0.7"/>
<rect x="15.6" y="3.4" width="2" height="1.2"/>
<rect x="22.4" y="6.6" width="1.3" height="1.1"/>
<rect x="23.6" y="9.8" width="1.8" height="1.7"/>
<rect x="6" y="20.6" width="1.2" height="1.5"/>
<rect x="3" y="23.4" width="1.1" height="1.2"/>
<rect x="32" y="25.2" width="1.2" height="1.4"/>
<path d="M8.4 23.4 Q12 26 14.6 26.6 L14.4 27.5 Q11 26.6 7.8 24.2 Z" fill-opacity="0.85"/>
<rect x="11" y="18.4" width="4.6" height="0.9" fill-opacity="0.8"/>
<rect x="21" y="18.4" width="4.4" height="0.9" fill-opacity="0.8"/>
</g>
<g fill="#c79208">
<rect x="19.2" y="9" width="1.2" height="19" fill-opacity="0.7"/>
<path d="M14.6 28.6 L22 28.6 L22 29.6 L14.6 29.6 Z" fill-opacity="0.6"/>
<rect x="5.2" y="15" width="10" height="1" fill-opacity="0.6"/>
</g>
</svg>
<div class="t" id="hdr1">GC3-057:  Comex Gold (Elec) Cont Liq @ NYMEX  (30 minute bars)</div>
<div class="t" id="hdr2">www.TradeNavigator.com © 1999-2025</div>
<div class="t" id="title">Performance
Gold-Future</div>
<div class="t" id="status">19.12.25 22:59 = 4368,7 (+4,2)</div>
<div class="t" id="pct">0,91%</div>
<div class="yl" style="top:66px">4410,0</div><div class="yl" style="top:127px">4400,0</div><div class="yl" style="top:187px">4390,0</div><div class="yl" style="top:248px">4380,0</div><div class="yl" style="top:309px">4370,0</div><div class="yl" style="top:370px">4360,0</div><div class="yl" style="top:430px">4350,0</div><div class="yl" style="top:491px">4340,0</div><div class="yl" style="top:552px">4330,0</div><div class="yl" style="top:613px">4320,0</div><div class="yl" style="top:673px">4310,0</div><div class="yl" style="top:734px">4300,0</div><div class="yl" style="top:795px">4290,0</div><div class="yl" style="top:845px">4280,0</div>
<div class="t" id="price">4368,7</div>
<div class="dl" style="left:144px">15.12.25</div><div class="dl" style="left:412px">16.12.25</div><div class="dl" style="left:680px">17.12.25</div><div class="dl" style="left:949px">18.12.25</div><div class="dl" style="left:1217px">19.12.25</div><div class="dl" style="left:1485px">22.12.25</div>
<div class="t" id="gen">© GenesisFT</div>
<div class="t" id="cs">CS Investor</div>
</body></html>
